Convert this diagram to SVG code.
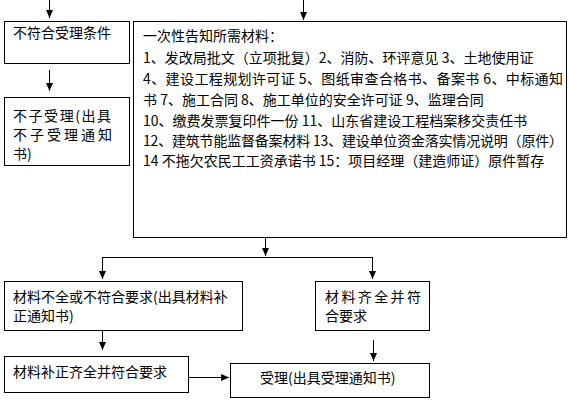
<svg xmlns="http://www.w3.org/2000/svg" width="569" height="401" viewBox="0 0 569 401">
<style>
.box{fill:#fff;stroke:#000;stroke-width:1}
.t{font-family:"Noto Sans CJK SC","Liberation Sans",sans-serif;font-size:14px;fill:#000}
.c{fill:none;stroke:#000;stroke-width:1}
</style>
<defs>
<marker id="ah" viewBox="0 0 8 8" refX="8" refY="4" markerWidth="8" markerHeight="8" markerUnits="userSpaceOnUse" orient="auto">
<path d="M0,0.5 L8,4 L0,7.5 Z" fill="#000"/>
</marker>
</defs>
<rect width="569" height="401" fill="#fff"/>
<g id="connectors">
<path class="c" d="M49.5,0 V18" marker-end="url(#ah)"/>
<path class="c" d="M49.5,70 V91" marker-end="url(#ah)"/>
<path class="c" d="M303.5,0 V20" marker-end="url(#ah)"/>
<path class="c" d="M265.5,230 V256" marker-end="url(#ah)"/>
<path class="c" d="M102.5,257.5 H372.5"/>
<path class="c" d="M102.5,257 V279" marker-end="url(#ah)"/>
<path class="c" d="M372.5,257 V279" marker-end="url(#ah)"/>
<path class="c" d="M102.5,331 V350" marker-end="url(#ah)"/>
<path class="c" d="M373.5,340 V361" marker-end="url(#ah)"/>
<path class="c" d="M189,377.5 H229" marker-end="url(#ah)"/>
</g>
<g id="node-reject-cond">
<rect class="box" x="4.5" y="21.5" width="125" height="42"/>
<text class="t" x="13" y="38">不符合受理条件</text>
</g>
<g id="node-reject">
<rect class="box" x="4.5" y="97.5" width="125" height="68"/>
<text class="t" x="13" y="121" textLength="98" lengthAdjust="spacing">不子受理(出具</text>
<text class="t" x="13" y="140" textLength="99" lengthAdjust="spacing">不子受理通知</text>
<text class="t" x="13" y="159">书)</text>
</g>
<g id="node-materials">
<rect class="box" x="133.5" y="21.5" width="433" height="216"/>
<text class="t" x="143" y="41">一次性告知所需材料：</text>
<text class="t" x="143" y="63">1、发改局批文（立项批复）2、消防、环评意见 3、土地使用证</text>
<text class="t" x="143" y="84" textLength="420" lengthAdjust="spacing">4、建设工程规划许可证 5、图纸审查合格书、备案书 6、中标通知</text>
<text class="t" x="143" y="105">书 7、施工合同 8、施工单位的安全许可证 9、监理合同</text>
<text class="t" x="143" y="126">10、缴费发票复印件一份 11、山东省建设工程档案移交责任书</text>
<text class="t" x="143" y="146" textLength="420" lengthAdjust="spacing">12、建筑节能监督备案材料 13、建设单位资金落实情况说明（原件）</text>
<text class="t" x="143" y="166">14 不拖欠农民工工资承诺书 15：项目经理（建造师证）原件暂存</text>
</g>
<g id="node-incomplete">
<rect class="box" x="4.5" y="281.5" width="238" height="49"/>
<text class="t" x="13" y="302">材料不全或不符合要求(出具材料补</text>
<text class="t" x="13" y="321">正通知书)</text>
</g>
<g id="node-complete">
<rect class="box" x="315.5" y="281.5" width="114" height="49"/>
<text class="t" x="325" y="302" textLength="96" lengthAdjust="spacing">材料齐全并符</text>
<text class="t" x="325" y="321">合要求</text>
</g>
<g id="node-corrected">
<rect class="box" x="4.5" y="356.5" width="184" height="36"/>
<text class="t" x="13" y="377">材料补正齐全并符合要求</text>
</g>
<g id="node-accept">
<rect class="box" x="230.5" y="363.5" width="199" height="34"/>
<text class="t" x="260" y="383">受理(出具受理通知书)</text>
</g>
</svg>
